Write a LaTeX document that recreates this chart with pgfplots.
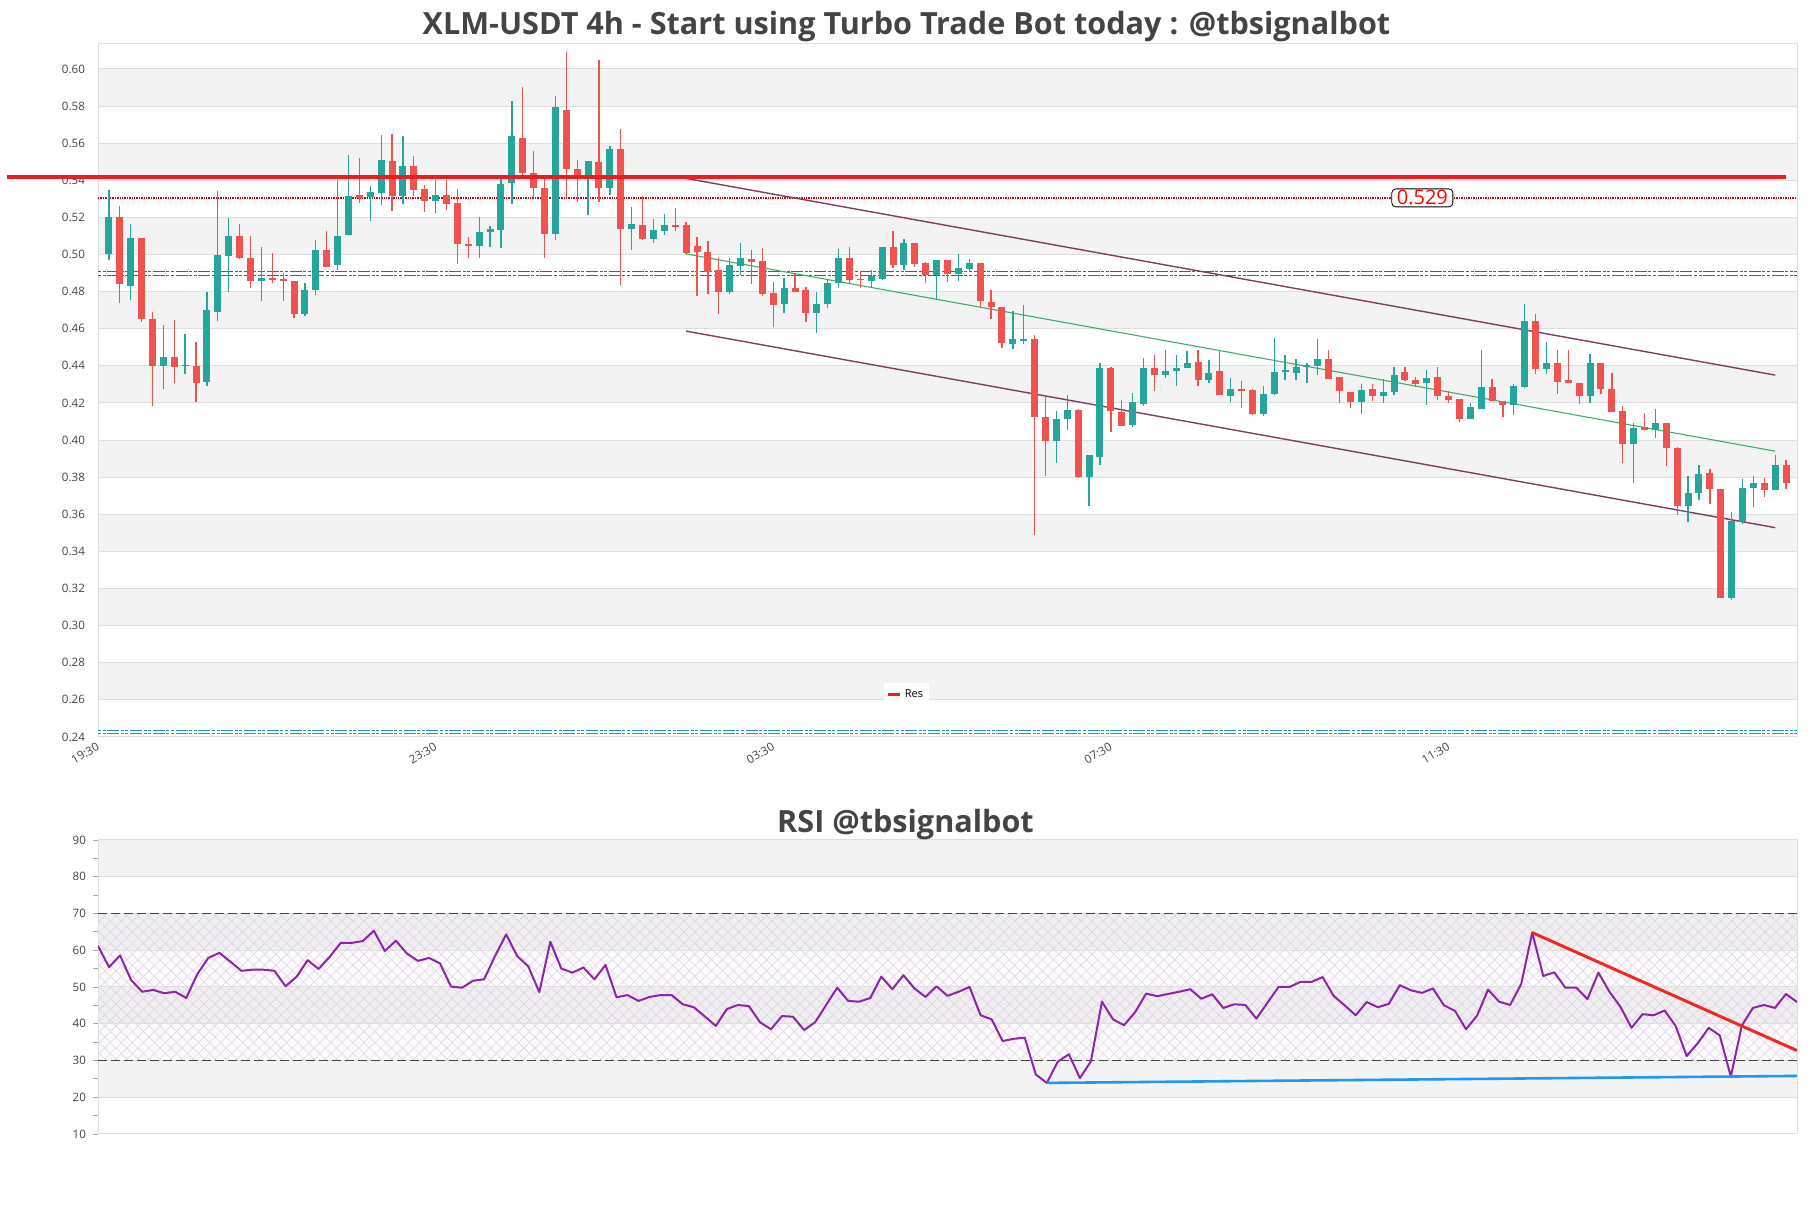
\documentclass[border=0pt]{standalone}
\usepackage{fontspec}
\setmainfont{Open Sans}
\usepackage{pgfplots}
\pgfplotsset{compat=1.18}
\usepackage{pgfplotstable}
\usetikzlibrary{patterns.meta}
\definecolor{cgreen}{HTML}{26A69A}
\definecolor{cred}{HTML}{EF5350}
\definecolor{txt}{HTML}{444444}
\definecolor{band}{HTML}{F3F3F3}
\definecolor{gridc}{HTML}{DEDEDE}
\definecolor{chan}{HTML}{7E3F5E}
\definecolor{midg}{HTML}{3DAE6A}
\definecolor{resred}{HTML}{EE1C1C}
\definecolor{patred}{HTML}{D0282C}
\definecolor{patblue}{HTML}{1E90E8}
\definecolor{rsipurple}{HTML}{8E24AA}
\definecolor{supblue}{HTML}{2196F3}
\definecolor{trendred}{HTML}{F02828}
\definecolor{hatch}{HTML}{D8D2E0}

\pgfplotstableread{
x o h l c
0 .500 .535 .497 .520
2 .483 .5165 .4756 .509
5 .440 .462 .4275 .4446
7 .440 .4573 .4354 .4405
9 .4315 .480 .429 .470
10 .469 .534 .464 .4999
11 .4994 .5197 .4796 .510
14 .4855 .504 .4749 .4875
18 .4677 .4845 .4667 .4806
19 .481 .508 .478 .5025
21 .4942 .540 .4917 .510
22 .5103 .5537 .5103 .5314
24 .5309 .537 .5178 .5339
25 .5334 .5644 .5264 .5507
27 .5317 .5639 .5272 .5478
30 .5289 .5403 .5222 .5322
34 .5044 .5202 .4979 .5123
35 .5123 .5153 .5041 .514
36 .513 .542 .5034 .538
37 .5383 .5825 .527 .5636
41 .5113 .5852 .508 .5793
44 .5408 .5505 .5212 .5505
46 .5356 .5587 .5322 .557
48 .5136 .5257 .5026 .5165
50 .5086 .5192 .5061 .5133
51 .5126 .5217 .5106 .516
57 .480 .4979 .4786 .4942
58 .4937 .5061 .4888 .4979
62 .4731 .4875 .4684 .482
65 .4682 .480 .4577 .4731
66 .4731 .4862 .4714 .4848
67 .4848 .5031 .4818 .4982
70 .4858 .4917 .4818 .4885
71 .487 .5041 .4863 .5041
73 .4944 .5083 .4917 .5063
76 .489 .4972 .4761 .4972
78 .4895 .50 .4855 .4925
79 .4922 .4974 .4904 .4955
83 .452 .4696 .4491 .4543
84 .4535 .4726 .4515 .4545
87 .3997 .4156 .3878 .4111
88 .4111 .4243 .4052 .4163
90 .3801 .392 .3645 .392
91 .3908 .4416 .3868 .4389
94 .4082 .4255 .4069 .4206
95 .4193 .4441 .4181 .4391
97 .4349 .4486 .4334 .4372
98 .4374 .4458 .4292 .4391
99 .4391 .4478 .4391 .4414
101 .4325 .4429 .4305 .4362
103 .424 .4334 .4205 .4275
106 .4143 .4292 .4131 .425
107 .425 .4548 .4243 .4367
108 .4367 .4458 .4322 .4377
109 .4362 .4436 .4322 .4394
110 .4394 .4416 .4305 .4404
111 .4401 .4546 .4349 .4438
115 .4203 .4302 .4141 .427
117 .4237 .4327 .4198 .4257
118 .4258 .4394 .4245 .4352
121 .431 .4376 .4188 .4332
125 .4111 .4198 .4111 .4176
126 .4166 .4488 .4166 .4285
129 .4188 .430 .4136 .4292
130 .4287 .4734 .428 .4642
132 .4384 .4528 .4354 .4414
136 .4235 .4463 .420 .4414
140 .3977 .4092 .3769 .4064
142 .4052 .4166 .4012 .4092
145 .3647 .3809 .3556 .3714
146 .3714 .3863 .3677 .3816
149 .3151 .3615 .3139 .3566
150 .3561 .3789 .3548 .3739
151 .3739 .3809 .3637 .3771
153 .3729 .3918 .3729 .3868
}\greentab

\pgfplotstableread{
x o h l c
1 .520 .526 .474 .484
3 .509 .509 .4635 .465
4 .465 .469 .4186 .440
6 .4446 .4645 .4305 .4396
8 .440 .4528 .4205 .431
12 .510 .5165 .4974 .4982
13 .498 .5098 .4818 .4855
15 .4875 .501 .4845 .4865
16 .4868 .490 .4751 .4858
17 .4855 .4858 .4657 .4677
20 .5025 .5128 .493 .493
23 .5321 .552 .5277 .5305
26 .5505 .5649 .5235 .5317
28 .5478 .5532 .5317 .5346
29 .5351 .5376 .523 .5289
31 .5322 .540 .5242 .527
32 .5277 .5351 .495 .5054
33 .5059 .5093 .4979 .5044
38 .5629 .590 .542 .544
39 .544 .5557 .531 .5356
40 .5356 .542 .498 .5113
42 .578 .609 .531 .5458
43 .546 .551 .5284 .542
45 .55 .6046 .5284 .5356
47 .557 .5674 .4838 .5138
49 .516 .5317 .508 .5086
52 .516 .525 .5128 .515
53 .5158 .5173 .500 .5007
54 .5048 .5093 .4776 .5011
55 .5016 .5073 .4789 .4907
56 .4917 .4987 .4677 .480
59 .4974 .5024 .4843 .4962
60 .4967 .5036 .4776 .4788
61 .4793 .485 .4607 .4726
63 .482 .490 .4796 .4798
64 .4808 .4826 .4634 .4682
68 .4982 .5041 .4843 .4863
69 .487 .4912 .4818 .486
72 .5041 .5128 .4925 .4942
74 .5063 .5063 .493 .4949
75 .4955 .496 .4846 .489
77 .4972 .4972 .485 .4895
80 .4955 .4955 .4714 .4751
81 .4746 .4806 .4652 .4719
82 .4716 .4716 .4498 .4523
85 .4545 .4565 .3491 .4126
86 .4124 .4235 .3809 .3997
89 .4161 .4166 .3796 .3801
92 .4389 .4396 .4044 .4156
93 .4151 .4218 .4077 .4077
96 .4391 .446 .4265 .4349
100 .4419 .4483 .429 .4325
102 .4372 .4478 .4243 .4243
104 .4275 .4317 .4173 .4265
105 .427 .4275 .4136 .4143
112 .4438 .4488 .4327 .4327
113 .4339 .4339 .4198 .4265
114 .4258 .4258 .4171 .4203
116 .4277 .4302 .4208 .4235
119 .4369 .4394 .4319 .4324
120 .4324 .434 .4287 .430
122 .4339 .4394 .4215 .424
123 .424 .4265 .4198 .4215
124 .4223 .4223 .4099 .4111
127 .4285 .4327 .4211 .4211
128 .4213 .4213 .4124 .4188
131 .4642 .4677 .4354 .4384
133 .4414 .4488 .4248 .4312
134 .4324 .4488 .4307 .4307
135 .431 .431 .4193 .4235
137 .4414 .4414 .425 .4275
138 .4275 .436 .4151 .4151
139 .4156 .4181 .3878 .3977
141 .4069 .4144 .4052 .4052
143 .4092 .4092 .3858 .3957
144 .3955 .3965 .3598 .3647
147 .3821 .3846 .3657 .3734
148 .3734 .3734 .3151 .3151
152 .3771 .3796 .3692 .3729
154 .3868 .3895 .3734 .3767
}\redtab

\pgfplotsset{candle/.style={forget plot, only marks, mark=*, mark size=0pt,
  mark options={draw=none, fill=none}}}

\begin{document}
\begin{tikzpicture}
\path (0,0) rectangle (905.5pt,604pt);

\node[font=\fontsize{15.3}{18}\selectfont\bfseries, text=txt] at (453.25pt,590.8pt)
  {XLM-USDT 4h - Start using Turbo Trade Bot today : @tbsignalbot};
\node[font=\fontsize{15.3}{18}\selectfont\bfseries, text=txt] at (452.75pt,191.8pt)
  {RSI @tbsignalbot};

% ---------------- main candle chart ----------------
\begin{axis}[
  at={(49pt,235.5pt)}, anchor=south west,
  width=849.5pt, height=346.65pt, scale only axis,
  xmin=-1, xmax=155, ymin=0.24, ymax=0.6136,
  set layers, clip=false,
  axis line style={draw=gridc, line width=0.5pt},
  major tick length=0pt,
  ytick={0.24,0.26,0.28,0.30,0.32,0.34,0.36,0.38,0.40,0.42,0.44,0.46,0.48,0.50,0.52,0.54,0.56,0.58,0.60},
  yticklabel style={font=\fontsize{5.8}{7}\selectfont, text=txt, xshift=-3pt,
    /pgf/number format/.cd, fixed, fixed zerofill, precision=2, assume math mode=true},
  ymajorgrids, grid style={draw=gridc, line width=0.5pt},
  xtick={-1,30,61,92,123},
  xticklabels={19:30,23:30,03:30,07:30,11:30},
  xticklabel style={rotate=30, anchor=north east, inner sep=0.5pt, xshift=-1.5pt, yshift=-1pt,
    font=\fontsize{5.8}{7}\selectfont, text=txt},
  legend style={at={(0.476,0.061)}, anchor=center, draw=none, fill=white,
    font=\fontsize{5.5}{6.5}\selectfont, inner sep=1.2pt, text=black},
  legend cell align=left,
]
\begin{pgfonlayer}{axis background}
\fill[band] (-1,0.58) rectangle (155,0.60);
\fill[band] (-1,0.54) rectangle (155,0.56);
\fill[band] (-1,0.50) rectangle (155,0.52);
\fill[band] (-1,0.46) rectangle (155,0.48);
\fill[band] (-1,0.42) rectangle (155,0.44);
\fill[band] (-1,0.38) rectangle (155,0.40);
\fill[band] (-1,0.34) rectangle (155,0.36);
\fill[band] (-1,0.30) rectangle (155,0.32);
\fill[band] (-1,0.26) rectangle (155,0.28);
\end{pgfonlayer}

% pattern lines
\addplot[forget plot, draw=patred, line width=0.45pt, double=white, double distance=1.3pt,
  dash pattern=on 1.5pt off 0.8pt on 1.5pt off 0.8pt on 6pt off 0.8pt]
  coordinates {(-1,0.4897) (155,0.4897)};
\addplot[forget plot, draw=patblue, line width=0.45pt, double=white, double distance=1.3pt,
  dash pattern=on 1.5pt off 0.8pt on 1.5pt off 0.8pt on 6pt off 0.8pt]
  coordinates {(-1,0.2427) (155,0.2427)};
% dotted level
\addplot[forget plot, draw=red!85!black, line width=1.1pt, dash pattern=on 0.7pt off 0.5pt]
  coordinates {(-1,0.5305) (155,0.5305)};

% channel
\addplot[forget plot, draw=chan, line width=0.7pt] coordinates {(53,0.5410) (153,0.4350)};
\addplot[forget plot, draw=chan, line width=0.7pt] coordinates {(53,0.4587) (153,0.3528)};
\addplot[forget plot, draw=midg, line width=0.55pt] coordinates {(53,0.5003) (153,0.3940)};

% wicks
\addplot[candle,
  error bars/.cd, y dir=plus, y explicit, error mark=none,
  error bar style={draw=cgreen, line width=0.65pt}]
  table[x=x, y=l, y error expr=\thisrow{h}-\thisrow{l}] {\greentab};
\addplot[candle,
  error bars/.cd, y dir=plus, y explicit, error mark=none,
  error bar style={draw=cred, line width=0.65pt}]
  table[x=x, y=l, y error expr=\thisrow{h}-\thisrow{l}] {\redtab};
% bodies
\addplot[candle,
  error bars/.cd, y dir=plus, y explicit, error mark=none,
  error bar style={draw=cgreen, line width=3.5pt}]
  table[x=x, y=o, y error expr=\thisrow{c}-\thisrow{o}] {\greentab};
\addplot[candle,
  error bars/.cd, y dir=plus, y explicit, error mark=none,
  error bar style={draw=cred, line width=3.5pt}]
  table[x=x, y=c, y error expr=\thisrow{o}-\thisrow{c}] {\redtab};

% resistance
\addplot[draw=resred, line width=2pt,
  legend image code/.code={\draw[resred, line width=1.2pt] (0pt,0pt) -- (6pt,0pt);}]
  coordinates {(-9.4,0.5415) (154,0.5415)};
\addlegendentry{Res}

\node[draw=black, line width=0.4pt, rounded corners=2pt, fill=white, text=red,
  font=\fontsize{10}{12}\selectfont, inner xsep=2.5pt, inner ysep=0.8pt]
  at (120.6,0.5305) {0.529};
\end{axis}

% ---------------- RSI ----------------
\begin{axis}[
  at={(49pt,37pt)}, anchor=south west,
  width=849.5pt, height=147pt, scale only axis,
  xmin=0, xmax=154, ymin=10, ymax=90,
  set layers,
  axis line style={draw=gridc, line width=0.5pt},
  xtick=\empty,
  ytick={10,20,30,40,50,60,70,80,90},
  minor ytick={15,25,35,45,55,65,75,85},
  ytick pos=left,
  tick align=outside, major tick length=2.5pt, minor tick length=2.5pt,
  tick style={draw=gray!70, line width=0.4pt},
  yticklabel style={font=\fontsize{5.8}{7}\selectfont, text=txt, /pgf/number format/assume math mode=true},
  ymajorgrids, grid style={draw=gridc, line width=0.5pt},
]
\begin{pgfonlayer}{axis background}
\fill[band] (0,80) rectangle (154,90);
\fill[band] (0,60) rectangle (154,70);
\fill[band] (0,40) rectangle (154,50);
\fill[band] (0,20) rectangle (154,30);
\fill[violet, opacity=0.02] (0,30) rectangle (154,70);
\fill[pattern={Lines[angle=45,distance=3.9pt,line width=0.25pt]}, pattern color=hatch] (0,30) rectangle (154,70);
\fill[pattern={Lines[angle=-45,distance=3.9pt,line width=0.25pt]}, pattern color=hatch] (0,30) rectangle (154,70);
\end{pgfonlayer}

\addplot[forget plot, draw=txt, line width=0.6pt, dash pattern=on 4.5pt off 2pt] coordinates {(0,70) (154,70)};
\addplot[forget plot, draw=txt, line width=0.6pt, dash pattern=on 4.5pt off 2pt] coordinates {(0,30) (154,30)};

\addplot[forget plot, draw=rsipurple, line width=1pt, line join=round] coordinates {
(0,61.2) (1,55.4) (2,58.6) (3,51.9) (4,48.7) (5,49.2) (6,48.3) (7,48.7) (8,47.0) (9,53.5)
(10,57.9) (11,59.3) (12,56.9) (13,54.4) (14,54.7) (15,54.7) (16,54.4) (17,50.2) (18,52.8) (19,57.3)
(20,54.9) (21,58.2) (22,62.0) (23,62.0) (24,62.5) (25,65.3) (26,59.8) (27,62.6) (28,59.1) (29,57.1)
(30,57.9) (31,56.4) (32,50.1) (33,49.8) (34,51.7) (35,52.1) (36,58.5) (37,64.3) (38,58.4) (39,55.6)
(40,48.6) (41,62.3) (42,55.0) (43,53.9) (44,55.3) (45,52.1) (46,56.0) (47,47.2) (48,47.8) (49,46.2)
(50,47.3) (51,47.8) (52,47.8) (53,45.3) (54,44.5) (55,42.0) (56,39.4) (57,44.0) (58,45.1) (59,44.8)
(60,40.4) (61,38.5) (62,42.1) (63,41.9) (64,38.3) (65,40.4) (66,45.1) (67,49.8) (68,46.2) (69,46.0)
(70,47.0) (71,52.8) (72,49.4) (73,53.2) (74,49.6) (75,47.3) (76,50.2) (77,47.6) (78,48.7) (79,50.0)
(80,42.3) (81,41.2) (82,35.3) (83,35.9) (84,36.2) (85,26.2) (86,23.9) (87,29.7) (88,31.7) (89,25.2)
(90,29.8) (91,46.0) (92,41.2) (93,39.6) (94,43.1) (95,48.2) (96,47.5) (97,48.1) (98,48.7) (99,49.4)
(100,46.8) (101,48.0) (102,44.3) (103,45.3) (104,45.1) (105,41.4) (106,45.7) (107,50.0) (108,50.0) (109,51.4)
(110,51.4) (111,52.7) (112,47.6) (113,45.0) (114,42.3) (115,45.9) (116,44.5) (117,45.4) (118,50.5) (119,49.1)
(120,48.4) (121,49.6) (122,45.0) (123,43.5) (124,38.5) (125,42.2) (126,49.3) (127,46.0) (128,45.1) (129,50.8)
(130,64.8) (131,53.0) (132,54.0) (133,49.8) (134,49.8) (135,46.7) (136,53.9) (137,48.7) (138,44.6) (139,38.9)
(140,42.6) (141,42.3) (142,43.6) (143,39.4) (144,31.2) (145,34.7) (146,38.9) (147,36.8) (148,25.6) (149,39.5)
(150,44.3) (151,45.1) (152,44.3) (153,48.1) (154,45.9)
};

\addplot[forget plot, draw=trendred, line width=1.5pt] coordinates {(130,64.8) (154,32.7)};
\addplot[forget plot, draw=supblue, line width=1.3pt] coordinates {(86,23.9) (154,25.8)};
\end{axis}
\end{tikzpicture}
\end{document}
